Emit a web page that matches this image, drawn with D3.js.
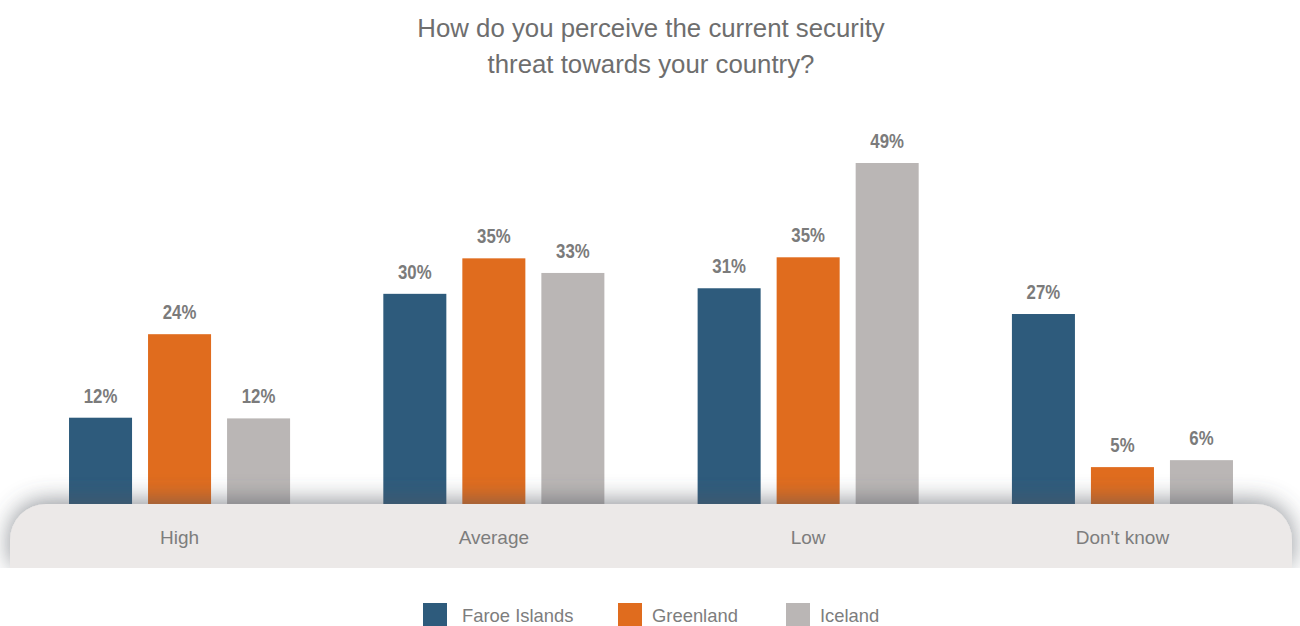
<!DOCTYPE html>
<html><head><meta charset="utf-8">
<script src="https://cdn.jsdelivr.net/npm/d3@7"></script>
<style>body{margin:0;background:#fff;}svg{display:block;}</style>
</head><body>
<svg id="chart" width="1300" height="626"></svg>
<script>
const categories = ["High", "Average", "Low", "Don't know"];
const seriesNames = ["Faroe Islands", "Greenland", "Iceland"];
const faroe = [12.4, 30.2, 31.0, 27.3];
const greenland = [24.4, 35.3, 35.45, 5.3];
const iceland = [12.3, 33.2, 49.0, 6.3];
const colors = ["#2e5b7c", "#e06c1e", "#bab6b5"];
const titleLines = ["How do you perceive the current security", "threat towards your country?"];

const series = [faroe, greenland, iceland];
const svg = d3.select("#chart");
const W = 1300, H = 626;
const baseY = 504;

const x0 = d3.scaleBand().domain(categories).range([22.4, 1279.6]).paddingInner(0).paddingOuter(0);
const x1 = d3.scaleBand().domain(seriesNames).range([0, x0.bandwidth()]).paddingInner(0.2025).paddingOuter(0.59);
const y = d3.scaleLinear().domain([0, 49]).range([baseY, 163]);

const defs = svg.append("defs");
const f = defs.append("filter").attr("id","sh").attr("x","-10%").attr("y","-100%").attr("width","120%").attr("height","250%");
f.append("feGaussianBlur").attr("in","SourceAlpha").attr("stdDeviation",12).attr("result","b");
f.append("feOffset").attr("in","b").attr("dx",0).attr("dy",-3).attr("result","o");
f.append("feComponentTransfer").attr("in","o").attr("result","o2").append("feFuncA").attr("type","linear").attr("slope",0.65);
f.append("feFlood").attr("flood-color","#50565e").attr("result","c");
f.append("feComposite").attr("in","c").attr("in2","o2").attr("operator","in").attr("result","s");
const m = f.append("feMerge");
m.append("feMergeNode").attr("in","s");
m.append("feMergeNode").attr("in","SourceGraphic");

// title
svg.append("g").selectAll("text").data(titleLines).join("text")
  .attr("x", 651).attr("y", (d,i) => 37 + i*36)
  .attr("text-anchor","middle")
  .attr("font-family","'Liberation Sans', Arial, sans-serif")
  .attr("font-size", 25.8).attr("fill","#6e6e6e").text(d => d);

// bars
const groups = svg.append("g").selectAll("g").data(categories).join("g")
  .attr("transform", d => `translate(${x0(d)},0)`);
groups.selectAll("rect").data((c,ci) => seriesNames.map((s,si) => ({s, si, v: series[si][ci]}))).join("rect")
  .attr("x", d => x1(d.s)).attr("width", x1.bandwidth())
  .attr("y", d => y(d.v)).attr("height", d => baseY - y(d.v))
  .attr("fill", d => colors[d.si]);
groups.selectAll("text").data((c,ci) => seriesNames.map((s,si) => ({s, si, v: series[si][ci]}))).join("text")
  .attr("transform", d => `translate(${x1(d.s) + x1.bandwidth()/2},${y(d.v) - 15}) scale(0.82,1)`)
  .attr("text-anchor","middle")
  .attr("font-family","'Liberation Sans', Arial, sans-serif")
  .attr("font-weight","bold").attr("font-size", 20.5).attr("fill","#7b7b7b")
  .text(d => Math.round(d.v) + "%");

// base band
const bx0 = 10, bx1 = 1292, by0 = baseY, by1 = 568, r = 36;
const p = d3.path();
p.moveTo(bx0, by1);
p.lineTo(bx0, by0 + r);
p.arcTo(bx0, by0, bx0 + r, by0, r);
p.lineTo(bx1 - r, by0);
p.arcTo(bx1, by0, bx1, by0 + r, r);
p.lineTo(bx1, by1);
p.closePath();
svg.append("path").attr("d", p.toString()).attr("fill","#ece9e8").attr("filter","url(#sh)");
svg.append("rect").attr("x", 0).attr("y", by1).attr("width", W).attr("height", 30).attr("fill","#fff");

// category labels
svg.append("g").selectAll("text").data(categories).join("text")
  .attr("x", d => x0(d) + x0.bandwidth()/2).attr("y", 544)
  .attr("text-anchor","middle")
  .attr("font-family","'Liberation Sans', Arial, sans-serif")
  .attr("font-size", 19).attr("fill","#7d7d7d").text(d => d);

// legend
const legX = [423, 618, 786];
const legTx = [462, 652, 820];
const leg = svg.append("g").selectAll("g").data(seriesNames).join("g");
leg.append("rect").attr("x", (d,i) => legX[i]).attr("y", 603).attr("width", 24).attr("height", 23).attr("fill", (d,i) => colors[i]);
leg.append("text").attr("x", (d,i) => legTx[i]).attr("y", 622)
  .attr("font-family","'Liberation Sans', Arial, sans-serif")
  .attr("font-size", 18.4).attr("fill","#7d7d7d").text(d => d);
</script>
</body></html>
